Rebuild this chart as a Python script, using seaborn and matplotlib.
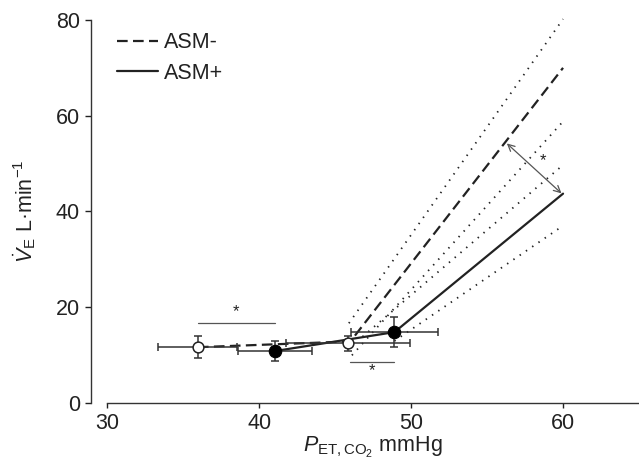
import matplotlib
matplotlib.use("Agg")
import matplotlib.pyplot as plt
import seaborn as sns
import pandas as pd

# ---- data ----
neg_x = [35.96, 45.85]          # ASM- means (PET,CO2)
neg_y = [11.6, 12.4]            # ASM- means (VE)
neg_xerr = [2.6, 4.1]
neg_yerr = [2.3, 1.5]

pos_x = [41.05, 48.9]           # ASM+ means
pos_y = [10.8, 14.75]
pos_xerr = [2.45, 2.85]
pos_yerr = [2.05, 3.2]

fit_neg_x = [35.96, 46.0, 60.0]
fit_neg_y = [11.6, 12.8, 70.0]
fit_pos_x = [41.05, 48.9, 60.0]
fit_pos_y = [10.8, 14.75, 43.7]

band_neg_up_x = [45.9, 60.0]
band_neg_up_y = [16.6, 80.2]
band_neg_lo_x = [46.1, 60.0]
band_neg_lo_y = [9.9, 58.8]
band_pos_up_x = [46.8, 60.0]
band_pos_up_y = [13.8, 49.7]
band_pos_lo_x = [48.9, 60.0]
band_pos_lo_y = [12.9, 37.0]

sig1_x = [35.96, 41.05]; sig1_y = 16.7; star1 = (38.5, 19.0)
sig2_x = [46.0, 48.9];   sig2_y = 8.45; star2 = (47.4, 6.8)
arrow_start = (56.3, 54.2); arrow_end = (59.9, 43.75); star3 = (58.7, 50.7)

x_ticks = [30, 40, 50, 60]
y_ticks = [0, 20, 40, 60, 80]

# ---- style ----
sns.set_theme(style="ticks")
plt.rcParams['font.family'] = ['Liberation Sans', 'DejaVu Sans']
plt.rcParams['mathtext.fontset'] = 'custom'
plt.rcParams['mathtext.rm'] = 'Liberation Sans'
plt.rcParams['mathtext.it'] = 'Liberation Sans:italic'
plt.rcParams['mathtext.bf'] = 'Liberation Sans:bold'

INK = '#222222'
FS = 15.5

fig = plt.figure(figsize=(6.39, 4.59), dpi=100)
ax = fig.add_axes([0.168, 0.1227, 0.832, 0.8337])

dash_style = (0, (4.8, 2.4))
dot_style = (0, (0.8, 3.4))

# fitted piecewise lines
df_neg = pd.DataFrame({'x': fit_neg_x, 'y': fit_neg_y})
df_pos = pd.DataFrame({'x': fit_pos_x, 'y': fit_pos_y})
sns.lineplot(data=df_neg, x='x', y='y', ax=ax, color=INK, lw=1.6,
             linestyle='--', dashes=False, label='ASM-', sort=False,
             estimator=None)
sns.lineplot(data=df_pos, x='x', y='y', ax=ax, color=INK, lw=1.6,
             label='ASM+', sort=False, estimator=None)
ax.lines[0].set_linestyle(dash_style)

# confidence bands (dotted)
for bx, by in [(band_neg_up_x, band_neg_up_y), (band_neg_lo_x, band_neg_lo_y),
               (band_pos_up_x, band_pos_up_y), (band_pos_lo_x, band_pos_lo_y)]:
    sns.lineplot(x=bx, y=by, ax=ax, color=INK, lw=1.3, linestyle=dot_style,
                 sort=False, estimator=None, legend=False)
for ln in ax.lines[2:]:
    ln.set_clip_on(False)

# error bars
ax.errorbar(neg_x, neg_y, xerr=neg_xerr, yerr=neg_yerr, fmt='none',
            ecolor='#333333', elinewidth=1.1, capsize=2.8, capthick=1.1, zorder=3)
ax.errorbar(pos_x, pos_y, xerr=pos_xerr, yerr=pos_yerr, fmt='none',
            ecolor='#333333', elinewidth=1.1, capsize=2.8, capthick=1.1, zorder=3)

# mean points
sns.scatterplot(x=neg_x, y=neg_y, ax=ax, s=60, facecolor='white',
                edgecolor=INK, linewidth=1.1, zorder=5, legend=False)
sns.scatterplot(x=pos_x, y=pos_y, ax=ax, s=80, color='black',
                edgecolor='black', linewidth=0.8, zorder=5, legend=False)

# significance markers
ax.plot(sig1_x, [sig1_y, sig1_y], color='#555555', lw=0.9)
ax.text(*star1, '*', ha='center', va='center', fontsize=12, color=INK)
ax.plot(sig2_x, [sig2_y, sig2_y], color='#555555', lw=0.9)
ax.text(*star2, '*', ha='center', va='center', fontsize=12, color=INK)
ax.annotate('', xy=arrow_end, xytext=arrow_start,
            arrowprops=dict(arrowstyle='<->', color='#555555', lw=0.9,
                            shrinkA=0, shrinkB=0, mutation_scale=12))
ax.text(*star3, '*', ha='center', va='center', fontsize=12, color=INK)

# axes
ax.set_xlim(30, 65)
ax.set_ylim(0, 80)
ax.set_xticks(x_ticks)
ax.set_yticks(y_ticks)
ax.tick_params(axis='both', labelsize=FS, colors=INK, width=1.0, pad=4)
ax.tick_params(axis='y', length=4)
ax.tick_params(axis='x', length=3.5)
sns.despine(ax=ax)
ax.spines['left'].set_position(('outward', 11.7))
for s in ['left', 'bottom']:
    ax.spines[s].set_color('#333333')
    ax.spines[s].set_linewidth(1.0)

ax.set_xlabel(r'$\mathit{P}_{\mathrm{ET,CO_2}}$ mmHg', fontsize=FS, color=INK, labelpad=0.5)
ax.set_ylabel(r'$\dot{\mathit{V}}_{\mathrm{E}}$ L·min$^{-1}$', fontsize=FS, color=INK, labelpad=13)

leg = ax.legend(loc='upper left', bbox_to_anchor=(0.018, 0.968), frameon=False,
                fontsize=FS, handlelength=1.9, handletextpad=0.3,
                labelspacing=0.45, borderpad=0, borderaxespad=0)
for t in leg.get_texts():
    t.set_color(INK)

fig.savefig('out.png', dpi=100)
